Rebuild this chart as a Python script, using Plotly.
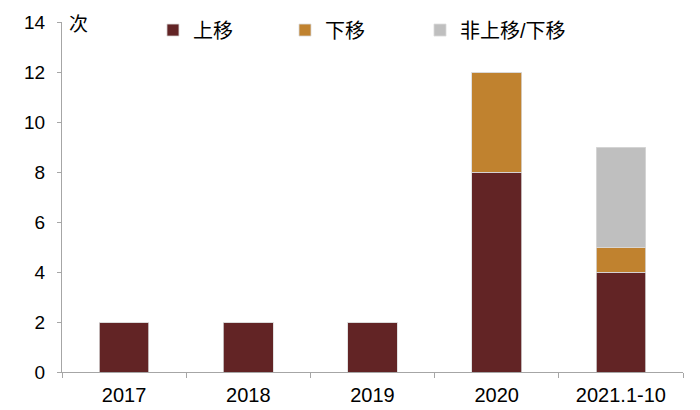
import plotly.graph_objects as go

categories = ["2017", "2018", "2019", "2020", "2021.1-10"]
up_values = [2, 2, 2, 8, 4]
down_values = [0, 0, 0, 4, 1]
other_values = [0, 0, 0, 0, 4]
series_names = ["上移", "下移", "非上移/下移"]
colors = ["#622425", "#C0822F", "#BFBFBF"]
y_ticks = [0, 2, 4, 6, 8, 10, 12, 14]

legend_ids = ["legend", "legend2", "legend3"]
legend_x = [0.1465, 0.3591, 0.5765]

fig = go.Figure()
for name, vals, col, lid in zip(series_names, [up_values, down_values, other_values], colors, legend_ids):
    fig.add_trace(go.Bar(
        x=categories, y=vals, name=name, width=0.4, legend=lid,
        marker=dict(color=col, line=dict(color="#d9d9d9", width=0.8)),
    ))

font_family = "Liberation Sans, Arial, Noto Sans CJK SC"
legend_common = dict(orientation="h", xanchor="left", y=0.977, yanchor="middle",
                     font=dict(size=20), itemwidth=30, bgcolor="rgba(0,0,0,0)")
fig.update_layout(
    barmode="stack",
    width=700, height=410,
    margin=dict(l=54, r=25, t=14, b=46, autoexpand=False),
    plot_bgcolor="white", paper_bgcolor="white",
    font=dict(family=font_family, size=18, color="#000000"),
    showlegend=True,
    legend=dict(x=legend_x[0], **legend_common),
    legend2=dict(x=legend_x[1], **legend_common),
    legend3=dict(x=legend_x[2], **legend_common),
    bargap=0.6,
)
fig.update_xaxes(
    showline=True, linecolor="#A6A6A6", linewidth=1,
    ticks="outside", tickson="boundaries", ticklen=5, tickcolor="#A6A6A6",
    showgrid=False, tickfont=dict(size=20), ticklabelstandoff=5,
)
fig.update_yaxes(
    range=[0, 14], tickvals=y_ticks, showline=True, linecolor="#A6A6A6", linewidth=1,
    ticks="outside", ticklen=4, tickcolor="#A6A6A6", showgrid=False, zeroline=False,
    tickfont=dict(size=19), ticklabelstandoff=8,
)
fig.add_annotation(text="次", xref="paper", yref="paper", x=0.009, y=0.998,
                   xanchor="left", yanchor="middle", showarrow=False, borderpad=0,
                   font=dict(size=19, family="Noto Sans CJK SC"))
fig.write_html("out.html")
